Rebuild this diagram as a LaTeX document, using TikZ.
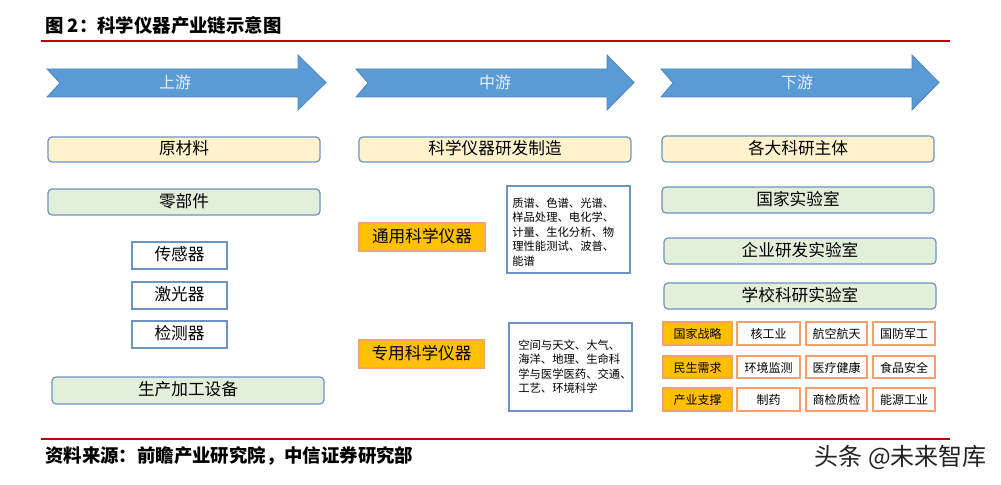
\documentclass[tikz,border=0pt]{standalone}
\usepackage{fontspec}
\setmainfont{Noto Sans CJK SC}
\usetikzlibrary{fit}
\definecolor{arrowblue}{HTML}{5B9BD5}
\definecolor{arrowedge}{HTML}{4A86BE}
\definecolor{arrowtext}{HTML}{E8F0FA}
\definecolor{boxblue}{HTML}{6F93C0}
\definecolor{boxyellow}{HTML}{FFF2CC}
\definecolor{boxgreen}{HTML}{E2EFDA}
\definecolor{orangefill}{HTML}{FFC000}
\definecolor{orangeline}{HTML}{F4A46E}
\definecolor{cellline}{HTML}{F5A06A}
\definecolor{titlered}{HTML}{C00000}
\definecolor{wmgray}{HTML}{222222}
\tikzset{
  cjk/.style={text height=0.83em, text depth=0.07em},
  base/.style={inner sep=0pt, outer sep=0pt, line width=0.9pt, cjk},
  bigtext/.style={font=\fontsize{12.5pt}{15pt}\selectfont},
  ybox/.style={base, bigtext, rounded corners=3pt, draw=boxblue, fill=boxyellow},
  gbox/.style={base, bigtext, rounded corners=3pt, draw=boxblue, fill=boxgreen},
  wbox/.style={base, bigtext, draw=boxblue, fill=white},
  obox/.style={base, bigtext, draw=orangeline, fill=orangefill},
  tbox/.style={base, draw=boxblue, fill=white},
  cell/.style={base, line width=1.1pt, draw=cellline, fill=white, font=\fontsize{9pt}{11pt}\selectfont},
  ocell/.style={cell, fill=orangefill},
  arrowshape/.style={fill=arrowblue, draw=arrowedge, line width=0.6pt},
  arrowlabel/.style={cjk, inner sep=0pt, text=arrowtext, font=\fontsize{12pt}{14pt}\selectfont},
  listtext/.style={inner sep=0pt, anchor=north west, align=left, font=\fontsize{8.5pt}{10.9pt}\selectfont},
  redline/.style={draw=titlered, line width=1.5pt}
}
\newcommand\mybox[5]{%
  \node[#1, fit={(#2) (#3)}] (#4) {};
  \node[#1, draw=none, fill=none] (#4-t) at (#4.center) {#5};}
\begin{document}
\begin{tikzpicture}[x=0.75pt,y=-0.75pt]
\useasboundingbox[fill=white] (0,0) rectangle (1001,485);

% title
\node[cjk, anchor=west, inner sep=0pt, font=\fontsize{13.8pt}{16pt}\selectfont\bfseries] (title) at (45,27) {图 2：科学仪器产业链示意图};
\coordinate (tl) at (41,41);
\coordinate (tr) at (950,41);
\draw[redline] (tl) -- (tr);

% arrows
\path[arrowshape] (47,69) -- (298,69) -- (298,55) -- (326,82.5) -- (298,110) -- (298,97) -- (47,97) -- (60,83) -- cycle;
\path[arrowshape] (356,69) -- (607,69) -- (607,55) -- (634,82.5) -- (607,110) -- (607,97) -- (356,97) -- (368,83) -- cycle;
\path[arrowshape] (661,69) -- (912,69) -- (912,55) -- (939,82.5) -- (912,110) -- (912,97) -- (661,97) -- (673,83) -- cycle;
\node[arrowlabel] (up) at (175,83) {上游};
\node[arrowlabel] (mid) at (495,83) {中游};
\node[arrowlabel] (down) at (797,83) {下游};

% left column
\mybox{ybox}{48,137}{320,162}{raw}{原材料\hspace{9pt}}
\mybox{gbox}{48,189}{320,215}{parts}{零部件\hspace{9pt}}
\mybox{wbox}{132,242}{227,269}{sensor}{传感器}
\mybox{wbox}{132,282}{227,309}{laser}{激光器}
\mybox{wbox}{132,321}{227,348}{detector}{检测器}
\mybox{gbox}{52,377}{324,404}{equip}{生产加工设备\hspace{12pt}}

% middle column
\mybox{ybox}{359,137}{631,162}{rd}{科学仪器研发制造}
\mybox{obox}{359,223}{485,251}{general}{通用科学仪器}
\node[tbox, fit={(507,186) (630,273)}] (genlist) {};
\node[listtext] (gentext) at (512,197.5) {质谱、色谱、光谱、\\样品处理、电化学、\\计量、生化分析、物\\理性能测试、波普、\\能谱};
\mybox{obox}{359,340}{484,368}{special}{专用科学仪器}
\node[tbox, fit={(509,323) (632,411)}] (speclist) {};
\node[listtext] (spectext) at (518,339.5) {空间与天文、大气、\\海洋、地理、生命科\\学与医学医药、交通、\\工艺、环境科学};

% right column
\mybox{ybox}{662,136}{934,162}{subjects}{各大科研主体}
\mybox{gbox}{662,187}{934,213}{natlab}{国家实验室}
\mybox{gbox}{664,238}{936,264}{entlab}{企业研发实验室}
\mybox{gbox}{664,283}{936,309}{schlab}{学校科研实验室}

% grid
\mybox{ocell}{663,322}{732,345}{c11}{国家战略}
\mybox{cell}{737,322}{800,345}{c12}{核工业}
\mybox{cell}{806,322}{867,345}{c13}{航空航天}
\mybox{cell}{873,322}{935,345}{c14}{国防军工}
\mybox{ocell}{663,356}{732,378}{c21}{民生需求}
\mybox{cell}{737,356}{800,378}{c22}{环境监测}
\mybox{cell}{806,356}{867,378}{c23}{医疗健康}
\mybox{cell}{873,356}{935,378}{c24}{食品安全}
\mybox{ocell}{663,388}{732,411}{c31}{产业支撑}
\mybox{cell}{737,388}{800,411}{c32}{制药}
\mybox{cell}{806,388}{867,411}{c33}{商检质检}
\mybox{cell}{873,388}{935,411}{c34}{能源工业}

% footer
\coordinate (bl) at (41,439);
\coordinate (br) at (950,439);
\draw[redline] (bl) -- (br);
\node[cjk, anchor=west, inner sep=0pt, font=\fontsize{13.8pt}{16pt}\selectfont\bfseries] (source) at (45,457) {资料来源：前瞻产业研究院，中信证券研究部};
\node[cjk, anchor=east, inner sep=0pt, text=wmgray, font=\fontsize{18pt}{20pt}\selectfont] (brand) at (987,460) {头条 @未来智库};
\end{tikzpicture}
\end{document}
